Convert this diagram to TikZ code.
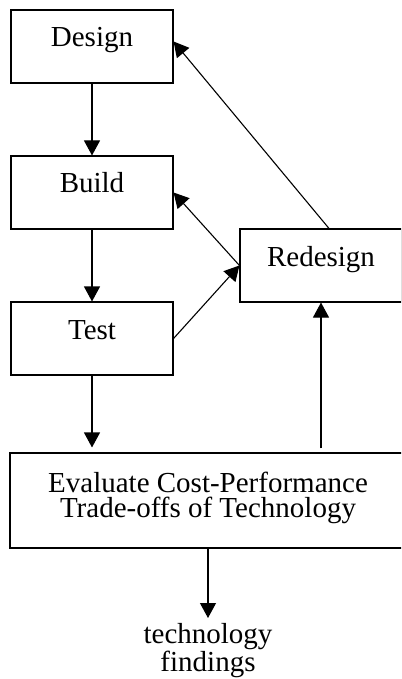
\documentclass[tikz,border=0pt]{standalone}
\usepackage{fontspec}
\setmainfont{Liberation Serif}
\usetikzlibrary{arrows.meta}
\begin{document}
\begin{tikzpicture}[x=1pt,y=-1pt,
    every node/.style={font=\fontsize{29}{25}\selectfont},
    stage/.style={draw,line width=1.1pt,inner sep=0pt,minimum width=162pt,
      text height=37pt,text depth=36pt},
    flow/.style={-{Triangle[length=15pt,width=16pt]},line width=1.1pt}]
  \path[use as bounding box,clip] (0,0) rectangle (401,679);
  \node[stage] (design) at (92,46.5) {Design};
  \node[stage] (build) at (92,192.5) {Build};
  \node[stage] (test) at (92,338.5) {Test};
  \node[stage] (redesign) at (321,265.5) {Redesign};
  \node[draw,line width=1.1pt,minimum width=396pt,minimum height=95pt,
    text depth=12pt,align=center] (evaluate) at (208,500.5)
    {Evaluate Cost-Performance\\Trade-offs of Technology};
  \node[inner sep=0pt,anchor=north,align=center] (findings) at (208,623)
    {technology\\findings};
  \draw[flow] (design) -- (build); \draw[flow] (build) -- (test);
  \draw[flow,shorten >=5pt] (test) -- (test.south |- evaluate.north);
  \draw[flow,shorten <=4pt] (redesign.south |- evaluate.north) --
    (redesign.south); \draw[flow] (test.east) -- (redesign.west);
  \draw[flow] (redesign.west) -- (build.east); \draw[flow]
    ([xshift=8pt]redesign.north) -- ([yshift=5pt]design.east);
  \draw[flow,shorten >=5pt] (evaluate) -- (findings);
\end{tikzpicture}
\end{document}
